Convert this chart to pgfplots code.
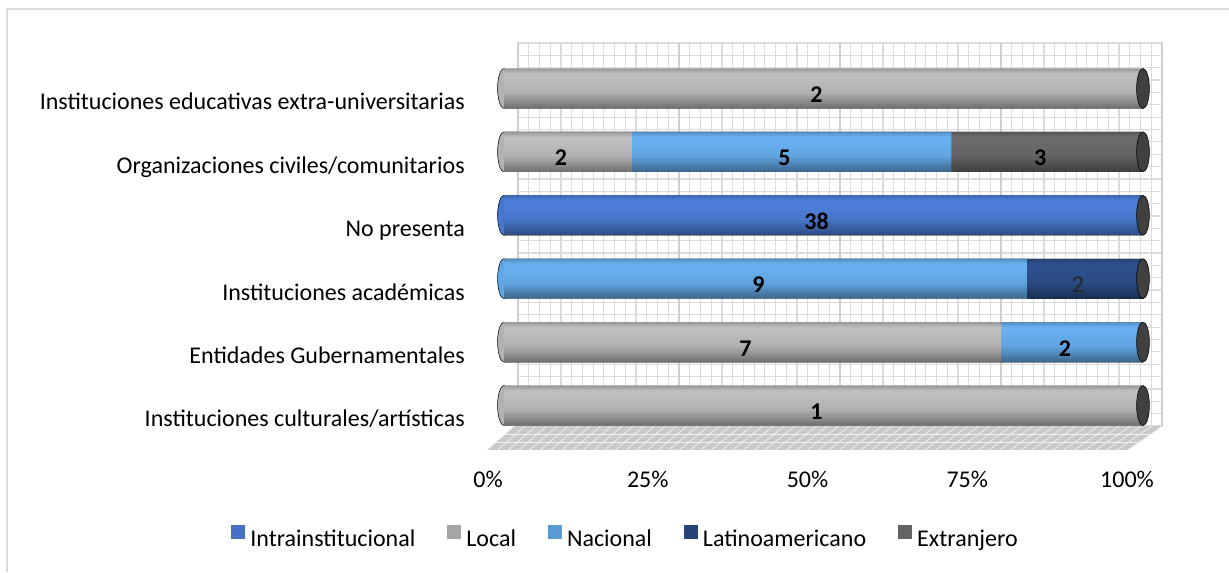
\documentclass[border=0pt]{standalone}
\usepackage{pgfplots}
\pgfplotsset{compat=1.18}
\usepackage{pgfplotstable}
\usepackage{fontspec}
\setmainfont{Carlito}

\definecolor{cI}{HTML}{4472C4}
\definecolor{cL}{HTML}{A5A5A5}
\definecolor{cN}{HTML}{5B9BD5}
\definecolor{cA}{HTML}{264478}
\definecolor{cE}{HTML}{636363}
\definecolor{capc}{HTML}{404040}
% lit colours of the cylinders (before the shading is multiplied in)
\definecolor{L2}{HTML}{BEBEBE}
\definecolor{N2}{HTML}{68B0F0}
\definecolor{I2}{HTML}{4D80DA}
\definecolor{A2}{HTML}{2D508C}
\definecolor{E2}{HTML}{6B6B6B}
% mid colours for the left ends
\definecolor{L1}{HTML}{B2B2B2}
\definecolor{N1}{HTML}{60A6E6}
\definecolor{I1}{HTML}{4677D0}

\pgfdeclareverticalshading{cylmul}{100bp}{color(0bp)=(black!42); color(25bp)=(black!42); color(45bp)=(black!7); color(63bp)=(white); color(69bp)=(white); color(75bp)=(black!19); color(100bp)=(black!19)}

% share of each origin in every row, in percent (row 0 = bottom)
\pgfplotstableread{
y  I    L       N       A       E
0  0    100     0       0       0
1  0    77.778  22.222  0       0
2  0    0       81.818  18.182  0
3  100  0       0       0       0
4  0    20      50      0       30
5  0    100     0       0       0
}\shares

% counts shown on the bars, at the middle of each segment
\pgfplotstableread{
x       y  lab
50      5  2
10      4  2
45      4  5
85      4  3
50      3  38
40.909  2  9
38.889  1  7
88.889  1  2
50      0  1
}\labelsbold
\pgfplotstableread{
x       y  lab
90.909  2  2
}\labelsplain

\pgfplotsset{
  samegeom/.style={
    at={(358.83pt,90.64pt)}, anchor=south west, scale only axis,
    width=517.59pt, height=307.65pt,
    xmin=-4, xmax=104, ymin=-0.72, ymax=5.75,
  },
  every axis/.append style={font=\fontsize{18}{22}\selectfont},
}

\begin{document}
\begin{tikzpicture}
\useasboundingbox (0,0) rectangle (921.75pt,429pt);
\draw[gray!28, line width=1.5pt] (5.25pt,0) -- (5.25pt,422.25pt) -- (921.75pt,422.25pt);

% back wall grid
\begin{axis}[
  at={(388.5pt,109.5pt)}, anchor=south west, scale only axis,
  width=483pt, height=287.25pt,
  xmin=0, xmax=60, ymin=0, ymax=31,
  xtick={0,1,...,60}, ytick={0,1,...,31},
  xticklabels={}, yticklabels={},
  major tick length=0pt,
  grid=major, grid style={gray!28, line width=0.9pt},
  axis line style={gray!28, line width=0.9pt},
  extra x ticks={0,15,30,45,60}, extra x tick labels={},
  extra x tick style={grid style={gray!38, line width=1.4pt}},
]
\end{axis}

% floor and left ends of the cylinders
\begin{axis}[samegeom, hide axis, clip=false]
\fill[gray!42] (axis cs:-2.66,-0.70) -- (axis cs:97.65,-0.70) -- (axis cs:103.0,-0.33) -- (axis cs:1.56,-0.33) -- cycle;
\pgfplotsinvokeforeach{0,1,...,60}{
  \draw[gray!12, line width=0.6pt] (axis cs:{-2.66+#1*1.67183},-0.70) -- (axis cs:{1.56+#1*1.69067},-0.33);
}
\draw[gray!12, line width=0.6pt] (axis cs:-1.25,-0.577) -- (axis cs:99.43,-0.577);
\draw[gray!12, line width=0.6pt] (axis cs:0.15,-0.453) -- (axis cs:101.2,-0.453);
\addplot[scatter, only marks, mark=*, mark size=15pt,
  mark options={xscale=0.32, draw=none},
  point meta=explicit symbolic,
  scatter/classes={L={fill=L1}, N={fill=N1}, I={fill=I1}}]
  table[meta=c]{
x y c
0 0 L
0 1 L
0 2 N
0 3 I
0 4 L
0 5 L
};
\end{axis}

% stacked 100% bars
\begin{axis}[samegeom, xbar stacked, bar width=30pt,
  axis line style={draw=none}, tick style={draw=none},
  xtick={0,25,50,75,100}, xticklabels={0\%,25\%,50\%,75\%,100\%},
  ytick={0,1,2,3,4,5},
  yticklabels={Instituciones culturales/artísticas, Entidades Gubernamentales, Instituciones académicas, No presenta, Organizaciones civiles/comunitarios, Instituciones educativas extra-universitarias},
  xticklabel style={anchor=base, inner sep=0pt, xshift=-12pt, yshift=-27.6pt},
  yticklabel style={anchor=base east, inner sep=0pt, xshift=-10.08pt, yshift=-16pt},
  tick label style={font=\fontsize{18}{22}\selectfont},
]
\addplot[draw=none, fill=I2] table[x=I, y=y]{\shares};
\addplot[draw=none, fill=L2] table[x=L, y=y]{\shares};
\addplot[draw=none, fill=N2] table[x=N, y=y]{\shares};
\addplot[draw=none, fill=A2] table[x=A, y=y]{\shares};
\addplot[draw=none, fill=E2] table[x=E, y=y]{\shares};
\end{axis}

% cylinder shading, right ends, value labels and legend
\begin{axis}[samegeom, hide axis, clip=false,
  legend columns=5,
  legend image code/.code={\fill[#1] (0pt,0pt) rectangle (10.5pt,10.5pt);},
  legend style={at={(0.2117,-0.2117)}, anchor=center, draw=none, fill=none,
    font=\fontsize{18}{22}\selectfont,
    nodes={inner xsep=0pt, inner ysep=2pt},
    /tikz/every odd column/.append style={column sep=3.75pt},
    /tikz/every even column/.append style={column sep=24pt}},
]
\addlegendimage{fill=cI, draw=none}\addlegendentry{Intrainstitucional}
\addlegendimage{fill=cL, draw=none}\addlegendentry{Local}
\addlegendimage{fill=cN, draw=none}\addlegendentry{Nacional}
\addlegendimage{fill=cA, draw=none}\addlegendentry{Latinoamericano}
\addlegendimage{fill=cE, draw=none}\addlegendentry{Extranjero}
\pgfplotsinvokeforeach{0,1,2,3,4,5}{
  \addplot[forget plot, xbar, bar shift=0pt, bar width=30pt, draw=none,
    shade, shading=cylmul, blend mode=multiply] coordinates {(100,#1)};
}
\addplot[forget plot, only marks, mark=*, mark size=15pt,
  mark options={xscale=0.32, draw=none, fill=capc}]
  coordinates {(100,0) (100,1) (100,2) (100,3) (100,4) (100,5)};
\addplot[forget plot, draw=none, mark=none, nodes near coords,
  point meta=explicit symbolic,
  nodes near coords style={anchor=base, inner sep=0pt, xshift=-5.25pt, yshift=-10.5pt,
    font=\fontsize{18}{22}\selectfont\bfseries, text=black}]
  table[meta=lab]{\labelsbold};
\addplot[forget plot, draw=none, mark=none, nodes near coords,
  point meta=explicit symbolic,
  nodes near coords style={anchor=base, inner sep=0pt, xshift=-5.25pt, yshift=-10.5pt,
    font=\fontsize{18}{22}\selectfont, text=black!85}]
  table[meta=lab]{\labelsplain};
\end{axis}
\end{tikzpicture}
\end{document}
